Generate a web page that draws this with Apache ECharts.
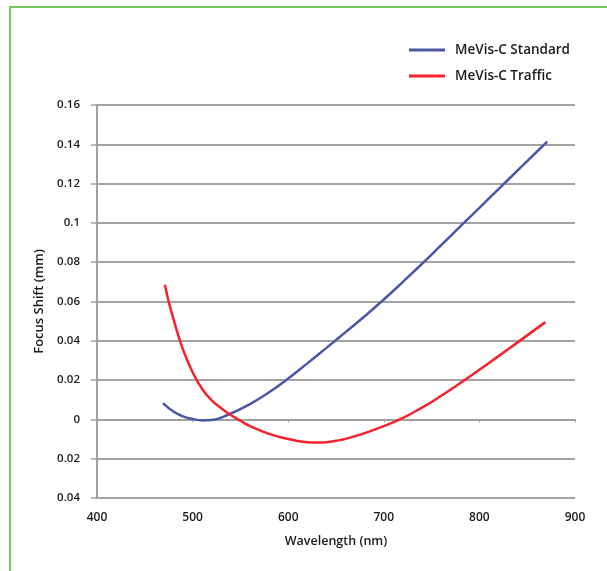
<!DOCTYPE html>
<html>
<head>
<meta charset="utf-8">
<script src="https://cdn.jsdelivr.net/npm/echarts@6/dist/echarts.min.js"></script>
<style>
html,body{margin:0;padding:0;background:#fff;overflow:hidden;}
#frame{position:absolute;left:9px;top:6px;width:700px;height:700px;border-left:2px solid #72c95e;border-top:2px solid #72c95e;}
#chart{position:absolute;left:0;top:0;width:607px;height:571px;}
</style>
</head>
<body>
<div id="frame"></div>
<div id="chart"></div>
<script>
const seriesNames = ['MeVis-C Standard', 'MeVis-C Traffic'];
const standardX = [469, 480, 490, 500, 510, 520, 540, 560, 580, 600, 620, 640, 660, 680, 700, 720, 740, 760, 780, 800, 820, 840, 860, 871];
const standardY = [0.0083, 0.0040, 0.0015, 0.0002, -0.0005, -0.0003, 0.0030, 0.0078, 0.0138, 0.0208, 0.0285, 0.0364, 0.0444, 0.0525, 0.0610, 0.0700, 0.0792, 0.0887, 0.0982, 0.1077, 0.1172, 0.1267, 0.1362, 0.1414];
const trafficX = [471, 475, 480, 490, 500, 510, 520, 530, 540, 550, 560, 580, 600, 610, 620, 630, 640, 650, 660, 680, 700, 720, 740, 760, 780, 800, 820, 840, 869];
const trafficY = [0.0685, 0.0600, 0.0510, 0.0355, 0.0240, 0.0155, 0.0097, 0.0057, 0.0022, -0.0007, -0.0034, -0.0074, -0.0100, -0.0110, -0.0116, -0.0118, -0.0116, -0.0109, -0.0099, -0.0070, -0.0034, 0.0008, 0.0060, 0.0120, 0.0185, 0.0253, 0.0322, 0.0392, 0.0495];
const xTicks = [400, 500, 600, 700, 800, 900];
const yTicks = [-0.04, -0.02, 0, 0.02, 0.04, 0.06, 0.08, 0.1, 0.12, 0.14, 0.16];
const colors = ['#4a57a6', '#f5222d'];

const pair = (xs, ys) => xs.map((x, i) => [x, ys[i]]);
const font = '"Open Sans", "Noto Sans", sans-serif';

const chart = echarts.init(document.getElementById('chart'), null, {renderer: 'canvas'});
chart.setOption({
  animation: false,
  backgroundColor: 'transparent',
  grid: {left: 97, right: 32, top: 105, bottom: 73, containLabel: false},
  legend: {
    orient: 'vertical',
    left: 404,
    top: 38,
    itemGap: 12,
    itemWidth: 36,
    itemHeight: 3,
    icon: 'rect',
    textStyle: {fontFamily: font, fontSize: 13.5, fontWeight: 600, color: '#1a1a1a', padding: [0, 0, 0, 5]},
    data: seriesNames
  },
  xAxis: {
    type: 'value',
    min: xTicks[0],
    max: xTicks[xTicks.length - 1],
    interval: 100,
    name: 'Wavelength (nm)',
    nameLocation: 'middle',
    nameGap: 37,
    nameTextStyle: {fontFamily: font, fontSize: 12.5, fontWeight: 600, color: '#1a1a1a'},
    axisLine: {show: true, lineStyle: {color: '#a0a0a0', width: 2}},
    axisTick: {show: true, length: 3, lineStyle: {color: '#a0a0a0'}},
    axisLabel: {fontFamily: font, fontSize: 12, fontWeight: 600, color: '#1a1a1a', margin: 14},
    splitLine: {show: false}
  },
  yAxis: {
    type: 'value',
    min: yTicks[0],
    max: yTicks[yTicks.length - 1],
    interval: 0.02,
    name: 'Focus Shift (mm)',
    nameLocation: 'middle',
    nameGap: 51,
    nameTextStyle: {fontFamily: font, fontSize: 13, fontWeight: 600, color: '#1a1a1a'},
    axisLine: {show: true, onZero: false, lineStyle: {color: '#a0a0a0', width: 2}},
    axisTick: {show: true, length: 6, lineStyle: {color: '#a0a0a0', width: 1.5}},
    axisLabel: {
      fontFamily: font, fontSize: 11.5, fontWeight: 600, color: '#1a1a1a', margin: 17,
      formatter: v => {
        const a = Math.abs(Math.round(v * 100) / 100);
        return a === 0 ? '0' : String(a);
      }
    },
    splitLine: {show: true, lineStyle: {color: '#a3a3a3', width: 2}}
  },
  series: [
    {
      name: seriesNames[0], type: 'line', data: pair(standardX, standardY),
      smooth: true, showSymbol: false, symbol: 'none',
      lineStyle: {color: colors[0], width: 2.5}, itemStyle: {color: colors[0]}, z: 3
    },
    {
      name: seriesNames[1], type: 'line', data: pair(trafficX, trafficY),
      smooth: true, showSymbol: false, symbol: 'none',
      lineStyle: {color: colors[1], width: 2.5}, itemStyle: {color: colors[1]}, z: 4
    }
  ]
});
</script>
</body>
</html>
